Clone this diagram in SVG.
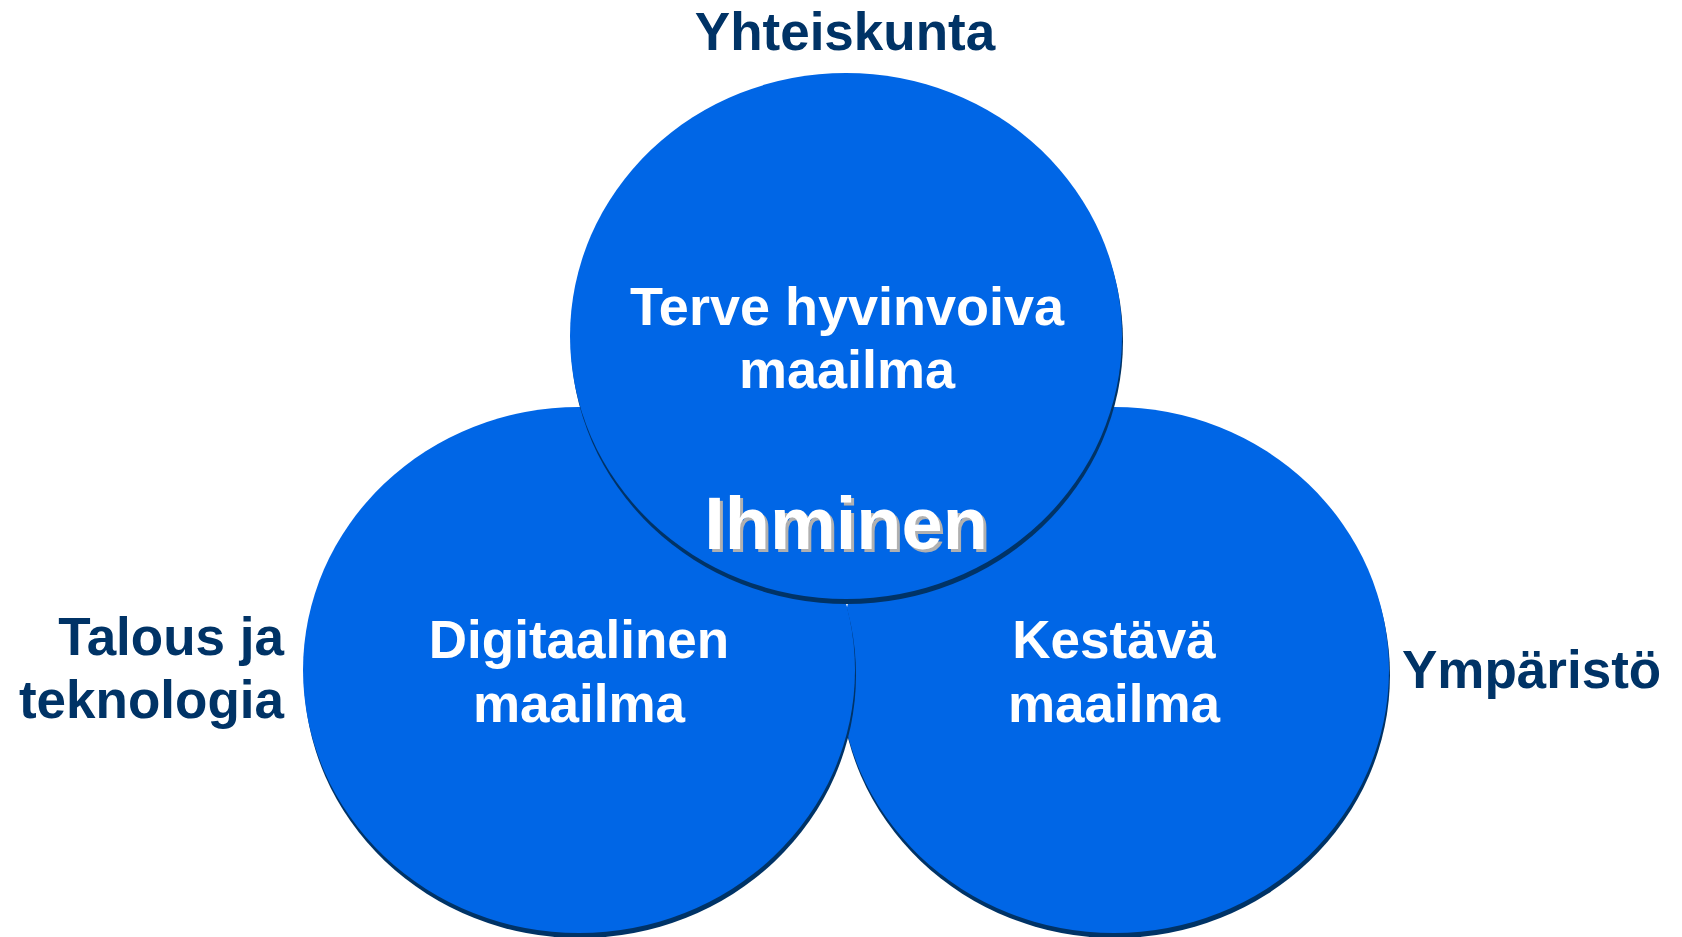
<svg xmlns="http://www.w3.org/2000/svg" width="1682" height="937" viewBox="0 0 1682 937">
<defs>
<style>
.c{fill:#0066E6}
.s{fill:#003366}
.lbl{font-family:"Liberation Sans",Arial,sans-serif;font-weight:bold;font-size:53px;fill:#003366}
.w{font-family:"Liberation Sans",Arial,sans-serif;font-weight:bold;font-size:53px;fill:#ffffff;text-anchor:middle}
.big{font-family:"Liberation Sans",Arial,sans-serif;font-weight:bold;font-size:74px;text-anchor:middle}
</style>
</defs>
<rect width="1682" height="937" fill="#ffffff"/>
<g id="connectors"></g>
<g id="node-kestava">
<ellipse class="s" cx="1115" cy="675" rx="275" ry="263"/>
<ellipse class="c" cx="1114" cy="670" rx="275" ry="263"/>
<text class="w" x="1114" y="658">Kestävä</text>
<text class="w" x="1114" y="722">maailma</text>
</g>
<g id="node-digitaalinen">
<ellipse class="s" cx="580" cy="675" rx="276" ry="263"/>
<ellipse class="c" cx="579" cy="670" rx="276" ry="263"/>
<text class="w" x="579" y="658">Digitaalinen</text>
<text class="w" x="579" y="722">maailma</text>
</g>
<g id="node-terve">
<ellipse class="s" cx="847" cy="341" rx="276" ry="263"/>
<ellipse class="c" cx="846" cy="336" rx="276" ry="263"/>
<text class="w" x="847" y="325" style="font-size:54px">Terve hyvinvoiva</text>
<text class="w" x="847" y="388" style="font-size:54px">maailma</text>
</g>
<g id="node-ihminen">
<text class="big" x="849" y="552" fill="#B0B0B0">Ihminen</text>
<text class="big" x="846" y="549" fill="#ffffff">Ihminen</text>
</g>
<g id="label-yhteiskunta">
<text class="lbl" x="845" y="50" text-anchor="middle">Yhteiskunta</text>
</g>
<g id="label-talous">
<text class="lbl" x="284" y="655" text-anchor="end">Talous ja</text>
<text class="lbl" x="284" y="718" text-anchor="end">teknologia</text>
</g>
<g id="label-ymparisto">
<text class="lbl" x="1402" y="688">Ympäristö</text>
</g>
</svg>
